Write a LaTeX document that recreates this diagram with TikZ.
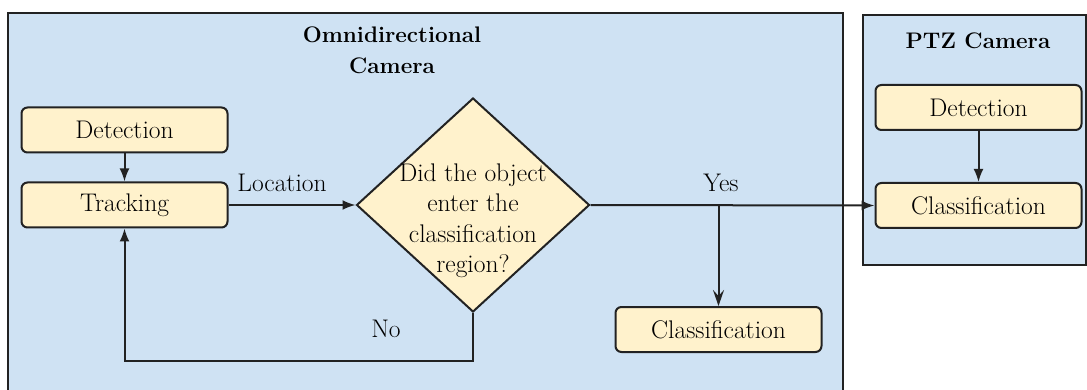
\documentclass[tikz,border=0pt]{standalone}
\usepackage{fontspec}
\usetikzlibrary{shapes.geometric,arrows.meta}
\definecolor{panelblue}{HTML}{CFE2F3}
\definecolor{boxyellow}{HTML}{FFF2CC}
\definecolor{edge}{HTML}{222222}
\tikzset{
  panel/.style={draw=edge, line width=2pt, fill=panelblue},
  stepbox/.style={draw=edge, line width=2pt, fill=boxyellow, rounded corners=6pt,
    minimum width=206pt, minimum height=45pt, inner sep=0pt},
  decision/.style={draw=edge, line width=2pt, fill=boxyellow, shape=diamond,
    minimum width=233pt, minimum height=214pt, inner sep=0pt},
  conn/.style={draw=edge, line width=2pt},
  arr/.style={conn, -{Latex[length=13pt,width=10pt]}},
  arrs/.style={conn, -{Stealth[length=16pt,width=11pt,inset=6pt]}},
  lbl/.style={inner sep=0pt, anchor=base},
  titlefont/.style={font=\fontsize{22.5}{31}\selectfont\bfseries},
}
\begin{document}
\begin{tikzpicture}[x=1pt,y=-1pt, font=\fontsize{25.5}{30.5}\selectfont]
\useasboundingbox (0,0) rectangle (1087,390);
\begin{scope}
\clip (0,0) rectangle (1087,390);
\path[panel] (8,13) rectangle (843,400);
\end{scope}
\path[panel] (863,15) rectangle (1086,265);

\node[align=center, inner sep=0pt, titlefont] (omnititle) at (392,50) {Omnidirectional\\Camera};
\node[lbl, titlefont] (ptztitle) at (978,49) {PTZ Camera};

\node[stepbox] (det) at (124.5,130) {Detection};
\node[stepbox] (trk) at (124.5,205) {Tracking};
\node[decision] (dec) at (473,205) {};
\node[align=center, inner sep=0pt] (dectext) at (473,221) {Did the object\\enter the\\classification\\region?};
\node[stepbox] (cls) at (718.5,329.5) {Classification};
\node[stepbox] (pdet) at (978.5,107.5) {Detection};
\node[stepbox] (pcls) at (978.5,205.5) {Classification};

\coordinate (yj) at (718.5,205);
\coordinate (nb) at (473,361);
\coordinate (na) at (124.5,361);

\draw[arr] (det) -- (trk);
\draw[arr] (trk.east) -- (dec.west);
\draw[arr] (dec.east) -- (pcls.west);
\draw[arrs] (yj) -- (cls.north);
\draw[arr] (dec.south) -- (nb) -- (na) -- (trk.south);
\draw[arr] (pdet) -- (pcls);

\node[lbl] (loc) at (282,192) {Location};
\node[lbl] (yes) at (721,192) {Yes};
\node[lbl] (no) at (386,337) {No};
\end{tikzpicture}
\end{document}
